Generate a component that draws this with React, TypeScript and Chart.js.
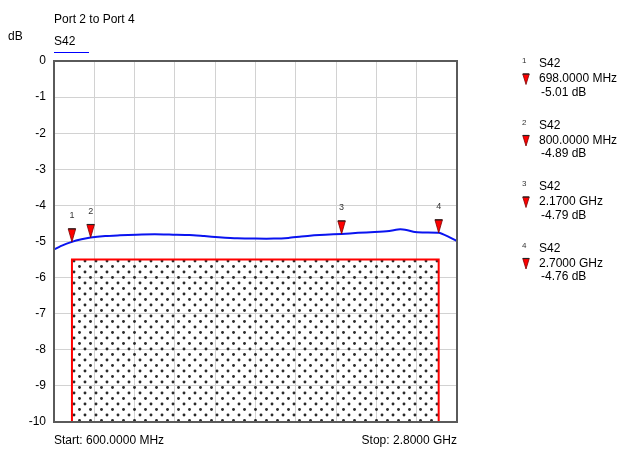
import React, { useEffect, useRef } from "react";
import { Chart, registerables } from "chart.js";
Chart.register(...registerables);

const freqMHz = [600, 640, 698, 750, 800, 880, 960, 1050, 1150, 1250, 1340, 1420, 1500, 1600, 1700, 1800, 1880, 1950, 2020, 2080, 2170, 2260, 2350, 2430, 2490, 2530, 2570, 2620, 2700, 2750, 2800];
const s42dB = [-5.22, -5.12, -5.01, -4.94, -4.89, -4.85, -4.83, -4.81, -4.8, -4.81, -4.82, -4.85, -4.88, -4.91, -4.92, -4.92, -4.9, -4.86, -4.83, -4.81, -4.79, -4.76, -4.74, -4.71, -4.66, -4.69, -4.74, -4.75, -4.76, -4.86, -4.99];
const xGridMHz = [600, 820, 1040, 1260, 1480, 1700, 1920, 2140, 2360, 2580, 2800];
const yTicks = [0, -1, -2, -3, -4, -5, -6, -7, -8, -9, -10];
const maskFreqMHz = [698, 698, 2700, 2700];
const maskdB = [-10, -5.5, -5.5, -10];
const markerIds = ["1", "2", "3", "4"];
const markerFreqMHz = [698, 800, 2170, 2700];
const markerdB = [-5.01, -4.89, -4.79, -4.76];
const markerFreqText = ["698.0000 MHz", "800.0000 MHz", "2.1700 GHz", "2.7000 GHz"];
const markerValText = ["-5.01 dB", "-4.89 dB", "-4.79 dB", "-4.76 dB"];

const FONT = "Liberation Sans, Arial, sans-serif";

function makePattern(ctx: CanvasRenderingContext2D) {
  const c = document.createElement("canvas");
  c.width = 11;
  c.height = 11;
  const p = c.getContext("2d")!;
  p.fillStyle = "#2a2a2a";
  p.beginPath();
  p.arc(2.5, 2.5, 1.45, 0, Math.PI * 2);
  p.fill();
  p.beginPath();
  p.arc(8, 8, 1.45, 0, Math.PI * 2);
  p.fill();
  return ctx.createPattern(c, "repeat")!;
}

function drawTri(ctx: CanvasRenderingContext2D, cx: number, tipY: number, w: number, h: number) {
  ctx.beginPath();
  ctx.moveTo(cx - w / 2, tipY - h);
  ctx.lineTo(cx + w / 2, tipY - h);
  ctx.lineTo(cx, tipY);
  ctx.closePath();
  ctx.fillStyle = "#ff0000";
  ctx.fill();
  ctx.strokeStyle = "#7a0000";
  ctx.lineWidth = 0.8;
  ctx.stroke();
  ctx.beginPath();
  ctx.moveTo(cx - w / 2, tipY - h);
  ctx.lineTo(cx + w / 2, tipY - h);
  ctx.strokeStyle = "#222";
  ctx.lineWidth = 1.2;
  ctx.stroke();
}

const decor = {
  id: "decor",
  afterDatasetsDraw(chart: any) {
    const ctx: CanvasRenderingContext2D = chart.ctx;
    const xs = chart.scales.x;
    const ys = chart.scales.y;
    const a = chart.chartArea;
    ctx.save();
    // frame
    ctx.strokeStyle = "#5a5a5a";
    ctx.lineWidth = 2;
    ctx.strokeRect(a.left, a.top, a.right - a.left, a.bottom - a.top);
    // markers
    for (let i = 0; i < markerIds.length; i++) {
      const px = xs.getPixelForValue(markerFreqMHz[i]);
      const py = ys.getPixelForValue(markerdB[i]);
      drawTri(ctx, px, py, 7.5, 13);
      ctx.fillStyle = "#333";
      ctx.font = `9px ${FONT}`;
      ctx.textAlign = "center";
      ctx.textBaseline = "middle";
      ctx.fillText(markerIds[i], px, py - 26);
    }
    // texts
    ctx.fillStyle = "#000";
    ctx.textBaseline = "middle";
    ctx.textAlign = "left";
    ctx.font = `12px ${FONT}`;
    ctx.fillText("Port 2 to Port 4", a.left, 20);
    ctx.fillText("dB", 8, 37);
    ctx.fillText("S42", a.left, 42);
    ctx.strokeStyle = "#0000ff";
    ctx.lineWidth = 1;
    ctx.beginPath();
    ctx.moveTo(a.left, 52.5);
    ctx.lineTo(a.left + 35, 52.5);
    ctx.stroke();
    ctx.fillText("Start: 600.0000 MHz", a.left, 441);
    ctx.textAlign = "right";
    ctx.fillText("Stop: 2.8000 GHz", a.right, 441);
    // marker legend
    for (let i = 0; i < markerIds.length; i++) {
      const y = 64 + i * 61.5;
      ctx.textAlign = "left";
      ctx.fillStyle = "#333";
      ctx.font = `8px ${FONT}`;
      ctx.fillText(markerIds[i], 522, y - 3);
      ctx.fillStyle = "#000";
      ctx.font = `12px ${FONT}`;
      ctx.fillText("S42", 539, y);
      ctx.fillText(markerFreqText[i], 539, y + 15);
      ctx.fillText(markerValText[i], 541, y + 28.5);
      drawTri(ctx, 526, y + 20.5, 6.5, 10.5);
    }
    ctx.restore();
  },
};

export default function App() {
  const ref = useRef<HTMLCanvasElement>(null);
  useEffect(() => {
    const canvas = ref.current!;
    const ctx = canvas.getContext("2d")!;
    const pattern = makePattern(ctx);
    const chart = new Chart(ctx, {
      type: "line",
      data: {
        datasets: [
          {
            data: freqMHz.map((f, i) => ({ x: f, y: s42dB[i] })),
            borderColor: "#0a14f0",
            borderWidth: 2,
            pointRadius: 0,
            fill: false,
            tension: 0.2,
            order: 0,
          },
          {
            data: maskFreqMHz.map((f, i) => ({ x: f, y: maskdB[i] })),
            borderColor: "#ff0000",
            borderWidth: 2,
            backgroundColor: pattern,
            pointRadius: 0,
            fill: "start",
            tension: 0,
            order: 1,
          },
        ],
      },
      options: {
        responsive: false,
        animation: false,
        devicePixelRatio: 1,
        layout: { padding: { top: 61, right: 170, left: 0, bottom: 0 } },
        plugins: { legend: { display: false }, tooltip: { enabled: false } },
        scales: {
          x: {
            type: "linear",
            min: 600,
            max: 2800,
            afterBuildTicks: (s: any) => {
              s.ticks = xGridMHz.map((v) => ({ value: v }));
            },
            afterFit: (s: any) => {
              s.height = 29;
            },
            ticks: { display: false },
            grid: { color: "#d2d2d2", lineWidth: 1, drawTicks: false },
            border: { display: false },
          },
          y: {
            min: -10,
            max: 0,
            afterBuildTicks: (s: any) => {
              s.ticks = yTicks.map((v) => ({ value: v }));
            },
            afterFit: (s: any) => {
              s.width = 54;
            },
            ticks: {
              color: "#000",
              padding: 8,
              font: { family: FONT, size: 12 },
              callback: (v: any) => String(v),
            },
            grid: { color: "#d2d2d2", lineWidth: 1, drawTicks: false },
            border: { display: false },
          },
        },
      },
      plugins: [decor],
    } as any);
    return () => chart.destroy();
  }, []);
  return (
    <div style={{ position: "fixed", left: 0, top: 0, width: 627, height: 451, background: "#fff" }}>
      <canvas ref={ref} width={627} height={451} />
    </div>
  );
}
